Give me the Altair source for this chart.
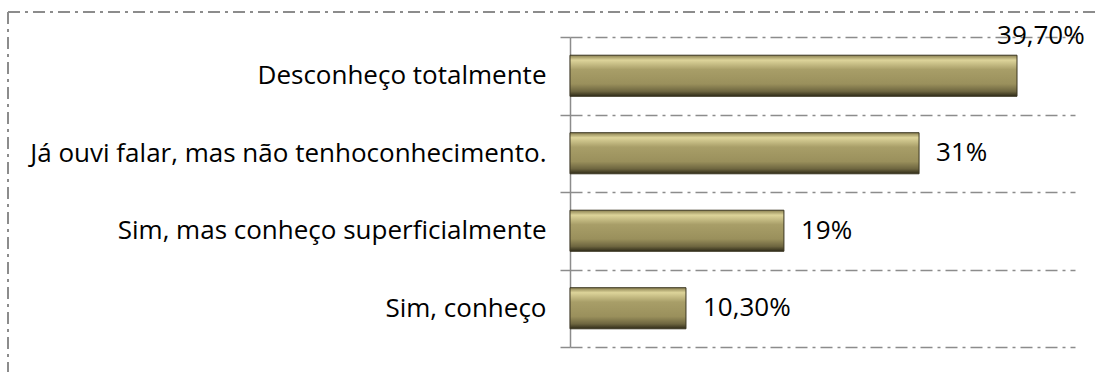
import altair as alt
import pandas as pd

categories = ["Desconheço totalmente", "Já ouvi falar, mas não tenhoconhecimento.",
              "Sim, mas conheço superficialmente", "Sim, conheço"]
values = [39.7, 31, 19, 10.3]
labels = ["39,70%", "31%", "19%", "10,30%"]

df = pd.DataFrame({"cat": categories, "val": values, "lab": labels})

FONT = "Open Sans"
FS = 26
DASH = [12, 5, 3, 5]
y_enc = alt.Y("cat:N", sort=categories, title=None,
              scale=alt.Scale(paddingInner=0, paddingOuter=0),
              axis=alt.Axis(tickBand="extent", grid=True, gridColor="#8c8c8c",
                            gridDash=DASH, gridWidth=1.5,
                            domainColor="#8c8c8c", domainWidth=1.5,
                            tickColor="#8c8c8c", tickWidth=1.5, tickSize=10,
                            labelFont=FONT, labelFontSize=FS, labelColor="#000000",
                            labelPadding=14, labelLimit=600))
x_enc = alt.X("val:Q", scale=alt.Scale(domain=[0, 44.85]), axis=None)

grad = alt.Gradient(gradient="linear", x1=0, y1=0, x2=0, y2=1, stops=[
    alt.GradientStop(color="#8a8050", offset=0),
    alt.GradientStop(color="#ddd49a", offset=0.12),
    alt.GradientStop(color="#a89e68", offset=0.35),
    alt.GradientStop(color="#9a905c", offset=0.7),
    alt.GradientStop(color="#6e6640", offset=0.88),
    alt.GradientStop(color="#2f2b18", offset=1),
])

bars = alt.Chart(df).mark_bar(color=grad, stroke="#3a3520", strokeWidth=1,
                              height={"band": 0.53}).encode(x=x_enc, y=y_enc)

txt_first = alt.Chart(df).transform_filter(alt.datum.cat == categories[0]).mark_text(
    align="left", baseline="middle", dx=-20, dy=-40, font=FONT, fontSize=FS, color="#000000"
).encode(x=x_enc, y=alt.Y("cat:N", sort=categories), text="lab:N")

txt_rest = alt.Chart(df).transform_filter(alt.datum.cat != categories[0]).mark_text(
    align="left", baseline="middle", dx=17, font=FONT, fontSize=FS, color="#000000"
).encode(x=x_enc, y=alt.Y("cat:N", sort=categories), text="lab:N")

border_top = alt.Chart(df).mark_rule(color="#8c8c8c", strokeWidth=1.5, strokeDash=DASH).encode(
    x=alt.value(-562), x2=alt.value(560), y=alt.value(-25))
border_left = alt.Chart(df).mark_rule(color="#8c8c8c", strokeWidth=1.5, strokeDash=DASH).encode(
    x=alt.value(-562), y=alt.value(-25), y2=alt.value(340))

chart = alt.layer(border_top, border_left, bars, txt_first, txt_rest).properties(
    width=505, height=310,
    background="white",
    autosize=alt.AutoSizeParams(type="none"),
    padding={"left": 570, "top": 37, "right": 22, "bottom": 25},
).configure_view(strokeWidth=0, stroke="transparent")

chart.save("out.html", embed_options={"renderer": "svg", "actions": False})
